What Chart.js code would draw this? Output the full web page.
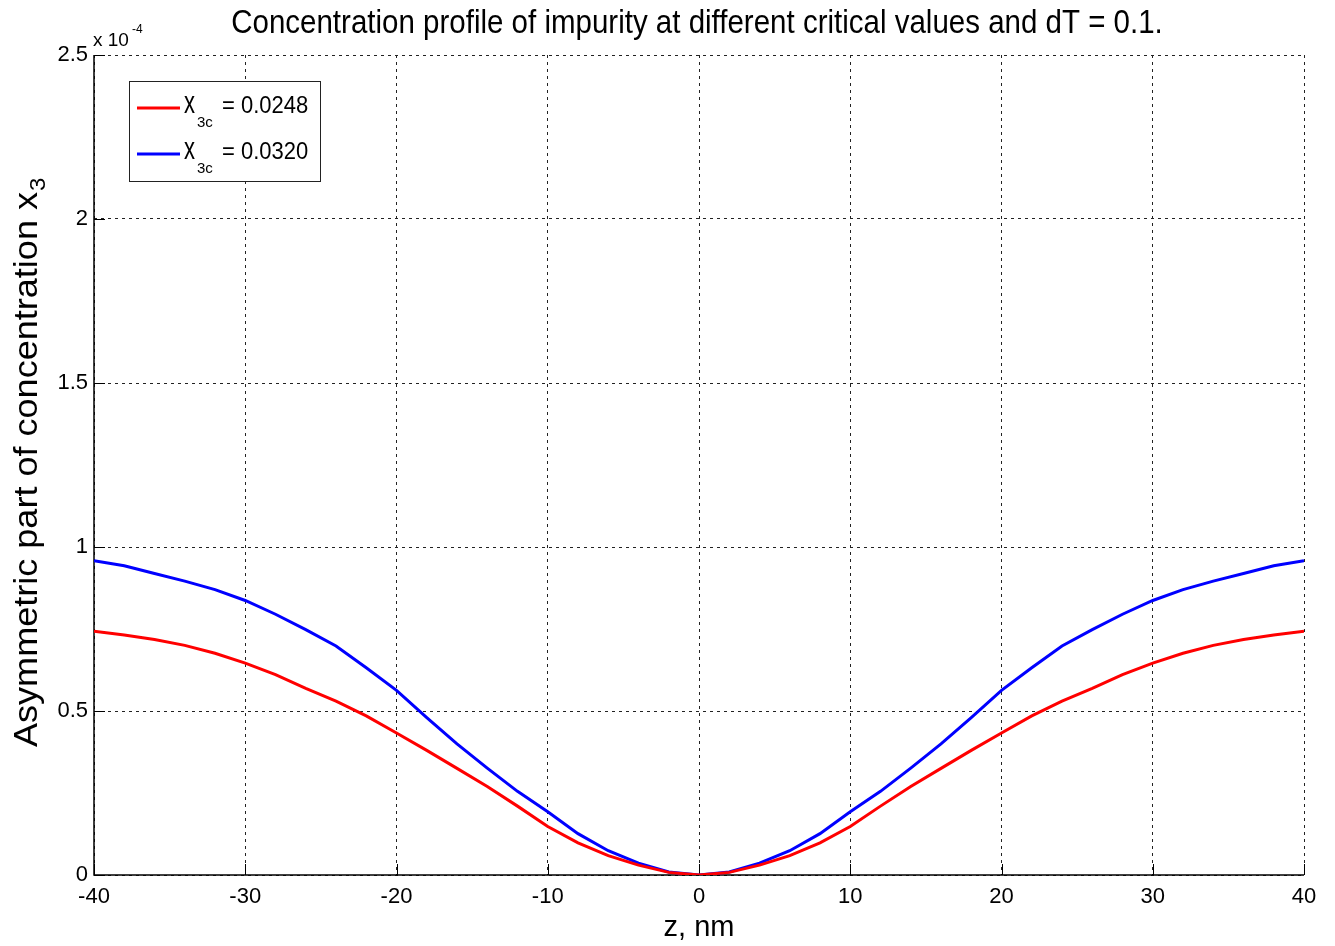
<!DOCTYPE html>
<html>
<head>
<meta charset="utf-8">
<script src="https://cdn.jsdelivr.net/npm/chart.js@4.4.1/dist/chart.umd.min.js"></script>
<style>
  html, body { margin: 0; padding: 0; background: #fff; }
  #wrap { width: 1335px; height: 946px; }
</style>
</head>
<body>
<div id="wrap"><canvas id="chart" width="1335" height="946"></canvas></div>
<script>
// z, nm
const zValues = [-40, -38, -36, -34, -32, -30, -28, -26, -24, -22, -20, -18, -16, -14, -12, -10, -8, -6, -4, -2,
    0, 2, 4, 6, 8, 10, 12, 14, 16, 18, 20, 22, 24, 26, 28, 30, 32, 34, 36, 38, 40];

// x3, in units of 1e-4
const redValues = [0.743, 0.732, 0.718, 0.700, 0.676, 0.646, 0.611, 0.569, 0.530, 0.485, 0.433, 0.380, 0.325, 0.270, 0.210, 0.148, 0.098, 0.059, 0.030, 0.008,
    0.000, 0.008, 0.030, 0.059, 0.098, 0.148, 0.210, 0.270, 0.325, 0.380, 0.433, 0.485, 0.530, 0.569, 0.611, 0.646, 0.676, 0.700, 0.718, 0.732, 0.743];
const blueValues = [0.958, 0.943, 0.919, 0.896, 0.870, 0.837, 0.795, 0.748, 0.698, 0.632, 0.563, 0.480, 0.400, 0.326, 0.255, 0.193, 0.126, 0.074, 0.036, 0.009,
    0.000, 0.009, 0.036, 0.074, 0.126, 0.193, 0.255, 0.326, 0.400, 0.480, 0.563, 0.632, 0.698, 0.748, 0.795, 0.837, 0.870, 0.896, 0.919, 0.943, 0.958];

const seriesCritical = ['0.0248', '0.0320'];
const xTicks = [-40, -30, -20, -10, 0, 10, 20, 30, 40];
const yTicks = [0, 0.5, 1, 1.5, 2, 2.5];

const titleText = 'Concentration profile of impurity at different critical values and dT = 0.1.';
const yTitleText = 'Asymmetric part of concentration x';
const FONT = '"Liberation Sans", Arial, Helvetica, sans-serif';

const toPoints = vals => zValues.map((z, i) => ({ x: z, y: vals[i] }));

// 제목, y축 제목, 지수 표기, 범례, 안쪽 눈금
const decorations = {
    id: 'decorations',
    beforeDatasetsDraw(chart) {
        // solid left / bottom axis lines with inward ticks
        const ctx = chart.ctx;
        const area = chart.chartArea;
        const xs = chart.scales.x;
        const ys = chart.scales.y;
        ctx.save();
        ctx.strokeStyle = '#000';
        ctx.setLineDash([]);
        ctx.lineWidth = 1.5;
        ctx.beginPath();
        ctx.moveTo(area.left, area.top);
        ctx.lineTo(area.left, area.bottom);
        ctx.lineTo(area.right, area.bottom);
        ctx.stroke();
        ctx.lineWidth = 1;
        for (const v of xTicks) {
            const px = Math.round(xs.getPixelForValue(v)) + 0.5;
            ctx.beginPath();
            ctx.moveTo(px, area.bottom);
            ctx.lineTo(px, area.bottom - 11);
            ctx.stroke();
        }
        for (const v of yTicks) {
            const py = Math.round(ys.getPixelForValue(v)) + 0.5;
            ctx.beginPath();
            ctx.moveTo(area.left, py);
            ctx.lineTo(area.left + 11, py);
            ctx.stroke();
        }
        ctx.restore();
    },
    afterDraw(chart) {
        const ctx = chart.ctx;
        const area = chart.chartArea;

        // title
        ctx.save();
        ctx.fillStyle = '#000';
        ctx.font = '29.5px ' + FONT;
        ctx.textAlign = 'center';
        ctx.textBaseline = 'alphabetic';
        ctx.translate((area.left + area.right) / 2 - 2, 33);
        ctx.scale(1, 1.1);
        ctx.fillText(titleText, 0, 0);
        ctx.restore();

        // y axis title (rotated) with subscript
        ctx.save();
        ctx.fillStyle = '#000';
        ctx.font = '33px ' + FONT;
        ctx.textAlign = 'left';
        ctx.textBaseline = 'alphabetic';
        const w = ctx.measureText(yTitleText).width;
        const stretch = (747 - 192) / w;
        ctx.translate(37, 747);
        ctx.rotate(-Math.PI / 2);
        ctx.scale(stretch, 1);
        ctx.fillText(yTitleText, 0, 0);
        ctx.font = '22px ' + FONT;
        ctx.fillText('3', w + 1, 8);
        ctx.restore();

        // exponent label
        ctx.save();
        ctx.fillStyle = '#000';
        ctx.textBaseline = 'alphabetic';
        ctx.font = '19px ' + FONT;
        ctx.fillText('x 10', 93, 46);
        ctx.font = '12px ' + FONT;
        ctx.fillText('-4', 132, 33);
        ctx.restore();

        // legend
        ctx.save();
        ctx.fillStyle = '#fff';
        ctx.fillRect(129, 81, 191, 100);
        ctx.strokeStyle = '#222';
        ctx.lineWidth = 1;
        ctx.strokeRect(129.5, 81.5, 191, 100);
        chart.data.datasets.forEach((ds, i) => {
            const cy = 108 + i * 46;
            ctx.strokeStyle = ds.borderColor;
            ctx.lineWidth = 3;
            ctx.beginPath();
            ctx.moveTo(137, cy);
            ctx.lineTo(180, cy);
            ctx.stroke();
            ctx.fillStyle = '#000';
            ctx.textBaseline = 'alphabetic';
            ctx.save();
            ctx.translate(184, cy + 5);
            ctx.scale(1, 1.4);
            ctx.font = '22px ' + FONT;
            ctx.fillText('x', 0, 0);
            ctx.restore();
            ctx.font = '15px ' + FONT;
            ctx.fillText('3c', 197, cy + 19);
            ctx.save();
            ctx.translate(222, cy + 5);
            ctx.scale(1, 1.1);
            ctx.font = '22px ' + FONT;
            ctx.fillText('= ' + seriesCritical[i], 0, 0);
            ctx.restore();
        });
        ctx.restore();
    }
};

const gridStyle = {
    color: '#222',
    lineWidth: 1,
    drawTicks: false
};

new Chart(document.getElementById('chart'), {
    type: 'line',
    data: {
        datasets: [
            { label: 'x3c = ' + seriesCritical[0], data: toPoints(redValues), borderColor: '#ff0000', borderWidth: 3, pointRadius: 0, tension: 0, fill: false },
            { label: 'x3c = ' + seriesCritical[1], data: toPoints(blueValues), borderColor: '#0000ff', borderWidth: 3, pointRadius: 0, tension: 0, fill: false }
        ]
    },
    options: {
        responsive: false,
        animation: false,
        layout: { padding: { top: 55, right: 31, left: 0, bottom: 0 } },
        plugins: {
            legend: { display: false },
            title: { display: false },
            tooltip: { enabled: false }
        },
        scales: {
            x: {
                type: 'linear',
                min: -40, max: 40,
                afterFit(scale) { scale.height = 71; },
                afterBuildTicks(scale) { scale.ticks = xTicks.map(v => ({ value: v })); },
                grid: gridStyle,
                border: { display: false, dash: [3, 4] },
                ticks: { color: '#000', padding: 9, font: { family: FONT, size: 22 }, maxRotation: 0, callback: v => String(v) },
                title: { display: true, text: 'z, nm', color: '#000', font: { family: FONT, size: 29 }, padding: { top: 0, bottom: 1 } }
            },
            y: {
                min: 0, max: 2.5,
                afterFit(scale) { scale.width = 94; },
                afterBuildTicks(scale) { scale.ticks = yTicks.map(v => ({ value: v })); },
                grid: gridStyle,
                border: { display: false, dash: [3, 4] },
                ticks: { color: '#000', padding: 6, font: { family: FONT, size: 22 }, callback: v => String(v) },
                title: { display: false }
            }
        }
    },
    plugins: [decorations]
});
</script>
</body>
</html>
